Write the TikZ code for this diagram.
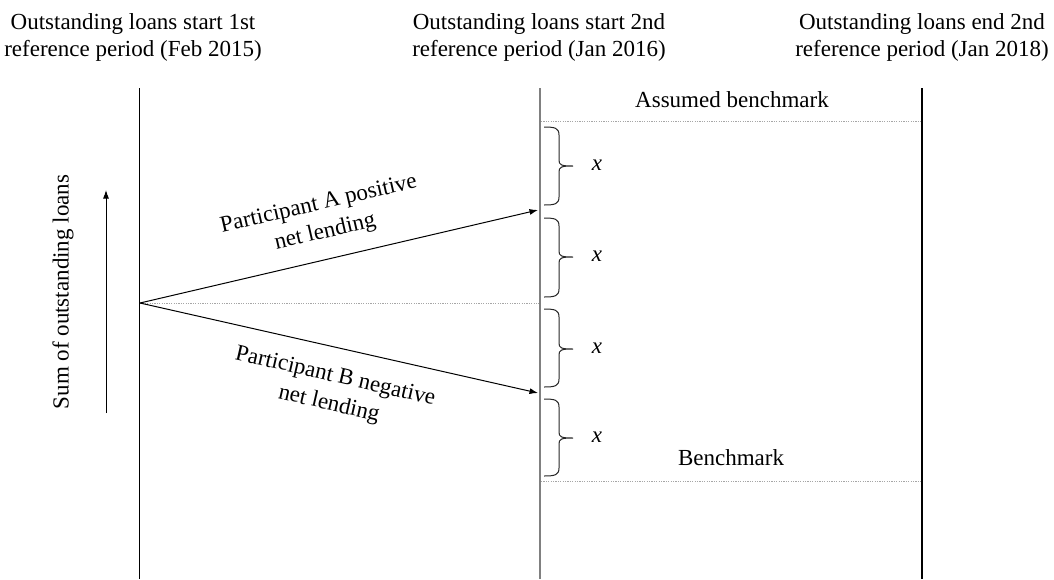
\documentclass[tikz,border=0pt]{standalone}
\usepackage{fontspec}
\setmainfont{Liberation Serif}
\usetikzlibrary{arrows.meta}
\newcommand\bracexy[3]{%
  \draw[bracestyle] (544,#1) .. controls (555,#1) and (559,#1+1) .. (559,#1+8)
    -- (559,#3-6) .. controls (559,#3-1) and (561,#3) .. (573,#3)
    .. controls (561,#3) and (559,#3+1) .. (559,#3+6)
    -- (559,#2-8) .. controls (559,#2-1) and (555,#2) .. (544,#2);}
\tikzset{
  lbl/.style={font=\fontsize{23}{26.5}\selectfont, inner sep=0pt, align=center},
  rlbl/.style={font=\fontsize{23}{28.5}\selectfont, inner sep=0pt, align=center},
  var/.style={font=\fontsize{23}{26.5}\selectfont\itshape, inner sep=0pt},
  dotline/.style={gray!70, line width=0.9pt, dash pattern=on 1.2pt off 1.2pt},
  arr/.style={-{Latex[length=8.5pt,width=6pt]}, line width=1pt},
  bracestyle/.style={line width=1pt, black!85},
}
\begin{document}
\begin{tikzpicture}[x=1pt,y=-1pt]
\useasboundingbox (0,0) rectangle (1054,579);
% vertical axes
\coordinate (L1t) at (139,88); \coordinate (L1b) at (139,579);
\coordinate (L2t) at (540,88); \coordinate (L2b) at (540,579);
\coordinate (L3t) at (922,88); \coordinate (L3b) at (922,579);
\draw[line width=1pt] (L1t) -- (L1b);
\draw[line width=2.4pt, gray] (L2t) -- (L2b);
\draw[line width=1.4pt] (L3t) -- (L3b);
% dotted levels
\coordinate (D1a) at (541,121); \coordinate (D1b) at (921,121);
\coordinate (D2a) at (140,303); \coordinate (D2b) at (539,303);
\coordinate (D3a) at (541,481); \coordinate (D3b) at (921,481);
\draw[dotline] (D1a) -- (D1b);
\draw[dotline] (D2a) -- (D2b);
\draw[dotline] (D3a) -- (D3b);
% top labels
\node[lbl, anchor=base] (t1) at (133,56) {Outstanding loans start 1st\\reference period (Feb 2015)};
\node[lbl, anchor=base] (t2) at (539,56) {Outstanding loans start 2nd\\reference period (Jan 2016)};
\node[lbl, anchor=base] (t3) at (922,56) {Outstanding loans end 2nd\\reference period (Jan 2018)};
\node[lbl] (ab) at (732,100) {Assumed benchmark};
\node[lbl] (bm) at (731,458) {Benchmark};
% y-axis arrow and label
\coordinate (Ya) at (106,413); \coordinate (Yb) at (106,190);
\draw[arr] (Ya) -- (Yb);
\node[lbl, rotate=90] (ylab) at (63,292) {Sum of outstanding loans};
% participant arrows
\coordinate (O) at (140,303);
\coordinate (Ae) at (538,210);
\coordinate (Be) at (538,393);
\draw[arr] (O) -- (Ae);
\draw[arr] (O) -- (Be);
\node[rlbl, rotate=13] (la) at (322,219) {Participant A positive\\net lending};
\node[rlbl, rotate=-13] (lb) at (332,391) {Participant B negative\\net lending};
% braces
\bracexy{127}{205}{166}
\bracexy{218}{297}{257}
\bracexy{309}{387}{349}
\bracexy{399}{476}{438}
\node[var] (x1) at (597,165) {x};
\node[var] (x2) at (597,256) {x};
\node[var] (x3) at (597,348) {x};
\node[var] (x4) at (597,437) {x};
\end{tikzpicture}
\end{document}
